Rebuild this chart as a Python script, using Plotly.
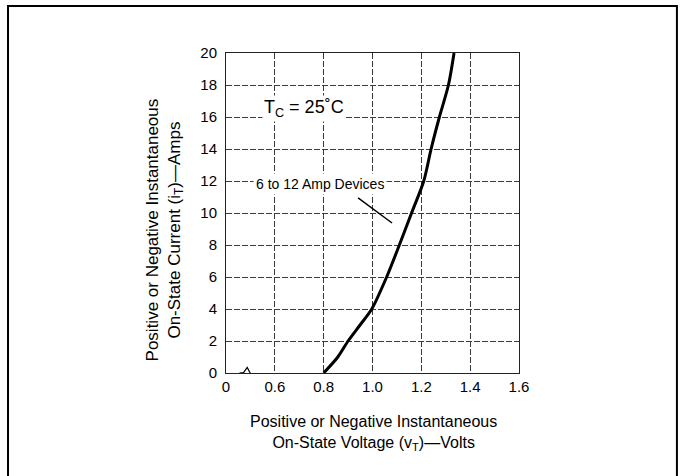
import plotly.graph_objects as go

# Data
voltage = [0.80, 0.858, 0.90, 0.949, 0.997, 1.058, 1.11, 1.16, 1.21, 1.24, 1.274, 1.311, 1.334]
current = [0, 1, 2, 3, 4, 6, 8, 10, 12, 14, 16, 18, 20]

x_tickvals = [0.4, 0.6, 0.8, 1.0, 1.2, 1.4, 1.6]
x_ticktext = ["0", "0.6", "0.8", "1.0", "1.2", "1.4", "1.6"]
y_tickvals = [0, 2, 4, 6, 8, 10, 12, 14, 16, 18, 20]

FONT = "Arial, 'Liberation Sans', Helvetica, sans-serif"

fig = go.Figure()
fig.add_trace(go.Scatter(
    x=voltage, y=current, mode="lines",
    line=dict(color="black", width=3, shape="spline", smoothing=0.8),
    showlegend=False, hoverinfo="skip",
))

grid = dict(showgrid=True, gridcolor="#3a3a3a", gridwidth=1, griddash="6px,2px",
            zeroline=False, showline=True, linecolor="#222", linewidth=1, mirror=True,
            ticks="", tickfont=dict(family=FONT, size=15, color="black"))

fig.update_xaxes(range=[0.4, 1.6], tickvals=x_tickvals, ticktext=x_ticktext,
                 ticklabelstandoff=0, **grid)
fig.update_yaxes(range=[0, 20], tickvals=y_tickvals, ticklabelstandoff=5, **grid)

# axis titles
fig.add_annotation(xref="paper", yref="paper", x=0.505, y=-0.118,
                   text="Positive or Negative Instantaneous<br>On-State Voltage (v<sub>T</sub>)—Volts",
                   showarrow=False, xanchor="center", yanchor="top",
                   font=dict(family=FONT, size=16, color="black"))
fig.add_annotation(xref="paper", yref="paper", x=-0.21, y=0.447,
                   text="Positive or Negative Instantaneous<br>On-State Current (i<sub>T</sub>)—Amps",
                   textangle=-90, showarrow=False, xanchor="center", yanchor="middle",
                   font=dict(family=FONT, size=17, color="black"))

# Tc label
fig.add_annotation(x=0.546, y=16.56, xref="x", yref="y",
                   text="T<sub>C</sub> = 25˚C", showarrow=False, xanchor="left",
                   yanchor="middle", bgcolor="white",
                   font=dict(family=FONT, size=18, color="black"))

# device label with white background
fig.add_annotation(x=0.785, y=11.8, xref="x", yref="y",
                   text="6 to 12 Amp Devices", showarrow=False, xanchor="center",
                   yanchor="middle", bgcolor="white", borderpad=2,
                   font=dict(family=FONT, size=14, color="black"))

shapes = [
    # pointer line
    dict(type="line", xref="x", yref="y", x0=0.941, y0=10.94, x1=1.080, y1=9.375,
         line=dict(color="black", width=1.5)),
    # axis break mask and zigzag
    dict(type="rect", xref="x", yref="y", x0=0.462, x1=0.532, y0=-0.25, y1=0.25,
         fillcolor="white", line=dict(width=0), layer="above"),
    dict(type="path", xref="x", yref="y",
         path="M 0.455 0 L 0.472 0.02 L 0.487 0.35 L 0.503 -0.12",
         line=dict(color="black", width=1.2), layer="above"),
    # outer frame
    dict(type="rect", xref="paper", yref="paper", x0=-0.744, x1=1.539, y0=-0.35, y1=1.147,
         line=dict(color="black", width=2), fillcolor="rgba(0,0,0,0)"),
]
fig.update_layout(shapes=shapes)

fig.update_layout(
    width=685, height=476,
    margin=dict(l=226, r=166, t=53, b=103),
    plot_bgcolor="white", paper_bgcolor="white",
    font=dict(family=FONT, color="black"),
)

fig.write_html("out.html", config={"displayModeBar": False},
               post_script="document.body.style.margin='0';document.body.style.overflow='hidden';")
